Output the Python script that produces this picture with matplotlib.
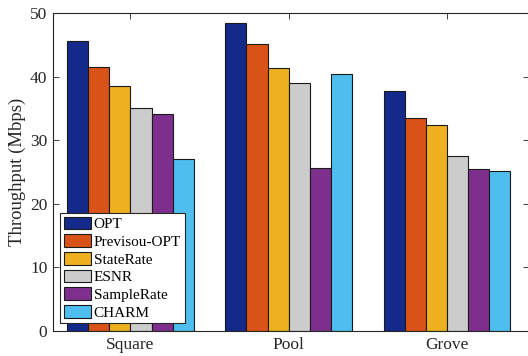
import numpy as np
import matplotlib.pyplot as plt

plt.rcParams['font.family'] = ['Liberation Serif', 'DejaVu Serif']

# data
scenes = ['Square', 'Pool', 'Grove']
methods = ['OPT', 'Previsou-OPT', 'StateRate', 'ESNR', 'SampleRate', 'CHARM']
opt = [45.6, 48.4, 37.7]
prev_opt = [41.6, 45.1, 33.5]
state_rate = [38.6, 41.3, 32.4]
esnr = [35.0, 39.0, 27.6]
sample_rate = [34.1, 25.7, 25.5]
charm = [27.0, 40.4, 25.2]
colors = ['#142a8a', '#d95319', '#edb120', '#cccccc', '#7e2f8e', '#4dbeee']

series = [opt, prev_opt, state_rate, esnr, sample_rate, charm]

fig = plt.figure(figsize=(5.28, 3.56), dpi=100)
ax = fig.add_axes([0.1004, 0.0702, 0.9015, 0.893])

x = np.arange(1, len(scenes) + 1)
w = 0.8 / len(methods)
for i, (vals, name) in enumerate(zip(series, methods)):
    ax.bar(x + (i - 2.5) * w, vals, w, color=colors[i], edgecolor='#1a1a1a',
           linewidth=0.8, label=name, zorder=2)

ax.set_xlim(0.51, 3.52)
ax.set_ylim(0, 50)
ax.set_xticks(x)
ax.set_xticklabels(scenes)
ax.set_yticks([0, 10, 20, 30, 40, 50])
ax.tick_params(direction='in', top=True, right=True, labelsize=12.5,
               colors='#262626', length=4, width=0.6, pad=4)
for s in ax.spines.values():
    s.set_color('#262626')
    s.set_linewidth(0.8)
ax.set_ylabel('Throughput (Mbps)', fontsize=13.5, color='#262626', labelpad=3)

leg = ax.legend(loc='upper left', bbox_to_anchor=(0.0147, 0.372),
                borderaxespad=0, fontsize=11, fancybox=False, framealpha=1,
                edgecolor='#262626', handlelength=1.75, handleheight=0.9,
                handletextpad=0.2, labelspacing=0.2, borderpad=0.25)
leg.get_frame().set_linewidth(0.8)

fig.savefig('out.png', dpi=100)
